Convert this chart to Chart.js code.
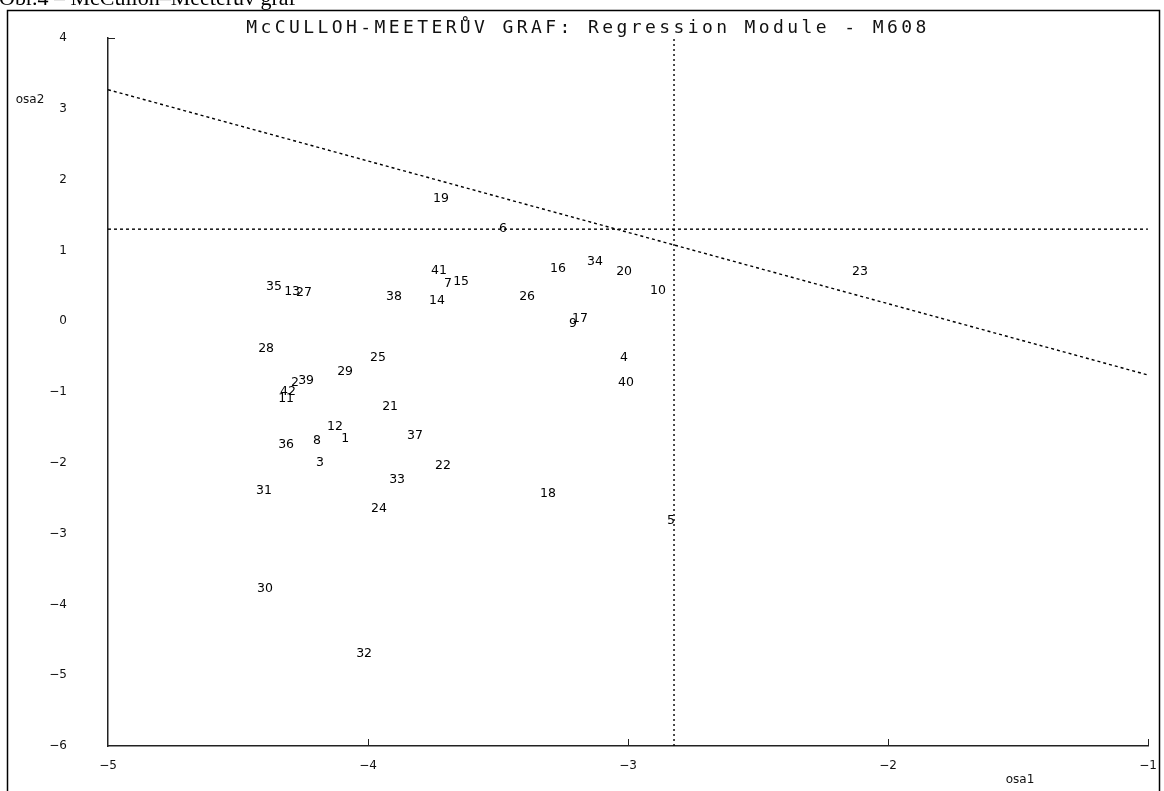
<!DOCTYPE html>
<html>
<head>
<meta charset="utf-8">
<script src="https://cdn.jsdelivr.net/npm/chart.js@4.4.1/dist/chart.umd.min.js"></script>
<style>
html,body{margin:0;padding:0;background:#fff;}
#wrap{position:relative;width:1164px;height:791px;overflow:hidden;}
</style>
</head>
<body>
<div id="wrap"><canvas id="c" width="1164" height="791"></canvas></div>
<script>
// ---- data ----
const pointLabels = ['19','6','41','7','15','16','34','20','10','26','38','14','35','13','27','9','17','23',
  '28','25','29','4','40','39','2','42','11','21','12','1','8','36','37','3','22','33','18','31','24','5','30','32'];
const osa1 = [-3.719,-3.481,-3.727,-3.692,-3.642,-3.269,-3.127,-3.015,-2.885,-3.388,-3.900,-3.735,-4.362,-4.292,-4.246,-3.212,-3.185,-2.108,
  -4.392,-3.962,-4.088,-3.015,-3.008,-4.238,-4.281,-4.308,-4.315,-3.915,-4.127,-4.088,-4.196,-4.315,-3.819,-4.185,-3.712,-3.888,-3.308,-4.400,-3.958,-2.835,-4.396,-4.015];
const osa2 = [1.726,1.301,0.707,0.523,0.552,0.735,0.835,0.693,0.424,0.339,0.339,0.283,0.481,0.410,0.396,-0.042,0.028,0.693,
  -0.396,-0.523,-0.721,-0.523,-0.863,-0.835,-0.863,-0.990,-1.089,-1.202,-1.485,-1.655,-1.683,-1.740,-1.612,-1.994,-2.037,-2.235,-2.433,-2.390,-2.645,-2.815,-3.777,-4.696];
const vLineX = -2.823;          // vertical dotted limit on osa1
const hLineY = 1.30;            // horizontal dotted limit on osa2
const slopeX = [-5, -1];        // sloped dotted line
const slopeY = [3.27, -0.76];
const xTicks = [-5, -4, -3, -2, -1];
const yTicks = [4, 3, 2, 1, 0, -1, -2, -3, -4, -5, -6];
const titleText = 'McCULLOH-MEETERŮV GRAF: Regression Module - M608';
const captionText = 'Obr.4 – McCulloh–Meeterův graf';
const xTitle = 'osa1';
const yTitle = 'osa2';

const pts = osa1.map((x, i) => ({x: x, y: osa2[i]}));
const minus = v => String(v).replace('-', '\u2212');

const decor = {
  id: 'decor',
  beforeDraw(chart) {
    const ctx = chart.ctx;
    ctx.save();
    ctx.fillStyle = '#fff';
    ctx.fillRect(0, 0, chart.width, chart.height);
    // caption (clipped at the top of the page)
    ctx.fillStyle = '#000';
    ctx.font = '22px "Liberation Serif"';
    ctx.textAlign = 'left';
    ctx.textBaseline = 'alphabetic';
    ctx.fillText(captionText, -1, 5);
    // frame
    ctx.fillStyle = '#fff';
    ctx.fillRect(8, 11, 1151, 790);
    ctx.strokeStyle = '#000';
    ctx.lineWidth = 1.5;
    ctx.strokeRect(7.5, 10.5, 1152, 800);
    ctx.restore();
  }
};

const labelsPlugin = {
  id: 'labelsPlugin',
  afterDatasetsDraw(chart) {
    const ctx = chart.ctx, xs = chart.scales.x, ys = chart.scales.y;
    const ca = chart.chartArea;
    ctx.save();
    ctx.fillStyle = '#000';
    ctx.font = '12.5px "DejaVu Sans"';
    ctx.textAlign = 'center';
    ctx.textBaseline = 'middle';
    pointLabels.forEach((t, i) => {
      ctx.fillText(t, xs.getPixelForValue(osa1[i]), ys.getPixelForValue(osa2[i]));
    });
    // tick labels
    ctx.fillStyle = '#111';
    ctx.font = '12px "DejaVu Sans"';
    xTicks.forEach(v => ctx.fillText(minus(v), xs.getPixelForValue(v), ca.bottom + 20));
    ctx.textAlign = 'right';
    yTicks.forEach(v => ctx.fillText(minus(v), 67, ys.getPixelForValue(v)));
    ctx.textAlign = 'center';
    // title
    ctx.font = '18px "DejaVu Sans Mono"';
    ctx.letterSpacing = '3.4px';
    ctx.fillText(titleText, 588, 28);
    ctx.letterSpacing = '0px';
    // axis titles
    ctx.font = '12px "DejaVu Sans"';
    ctx.fillText(yTitle, 30, 100);
    ctx.fillText(xTitle, 1020, 780);
    // inward ticks
    ctx.strokeStyle = '#222';
    ctx.lineWidth = 1;
    xTicks.slice(1).forEach(v => {
      const px = Math.round(xs.getPixelForValue(v)) + 0.5;
      ctx.beginPath(); ctx.moveTo(px, ca.bottom); ctx.lineTo(px, ca.bottom - 7); ctx.stroke();
    });
    const py = Math.round(ys.getPixelForValue(yTicks[0])) + 0.5;
    ctx.beginPath(); ctx.moveTo(ca.left, py); ctx.lineTo(ca.left + 7, py); ctx.stroke();
    ctx.restore();
  }
};

new Chart(document.getElementById('c'), {
  type: 'scatter',
  data: {
    datasets: [
      { label: 'points', data: pts, pointRadius: 0, pointHoverRadius: 0, showLine: false },
      { label: 'vline', data: [{x: vLineX, y: -6}, {x: vLineX, y: 4.1}], showLine: true, borderColor: '#000',
        borderWidth: 1.4, borderDash: [2, 3], pointRadius: 0, fill: false },
      { label: 'hline', data: [{x: -5, y: hLineY}, {x: -1, y: hLineY}], showLine: true, borderColor: '#000',
        borderWidth: 1.4, borderDash: [3, 3], pointRadius: 0, fill: false },
      { label: 'slope', data: slopeX.map((x, i) => ({x: x, y: slopeY[i]})), showLine: true, borderColor: '#000',
        borderWidth: 1.4, borderDash: [3, 3], pointRadius: 0, fill: false }
    ]
  },
  options: {
    responsive: false,
    animation: false,
    events: [],
    layout: { padding: { left: 0, right: 16, top: 38, bottom: 0 } },
    plugins: { legend: { display: false }, tooltip: { enabled: false }, title: { display: false } },
    scales: {
      x: {
        type: 'linear', min: -5, max: -1,
        afterFit: s => { s.height = 45; },
        afterBuildTicks: s => { s.ticks = xTicks.map(v => ({value: v})); },
        grid: { display: false, drawTicks: false },
        border: { display: true, color: '#222', width: 1.5 },
        ticks: { display: false }
      },
      y: {
        type: 'linear', min: -6, max: 4,
        afterFit: s => { s.width = 108; },
        afterBuildTicks: s => { s.ticks = yTicks.map(v => ({value: v})); },
        grid: { display: false, drawTicks: false },
        border: { display: true, color: '#222', width: 1.5 },
        ticks: { display: false }
      }
    }
  },
  plugins: [decor, labelsPlugin]
});
</script>
</body>
</html>
